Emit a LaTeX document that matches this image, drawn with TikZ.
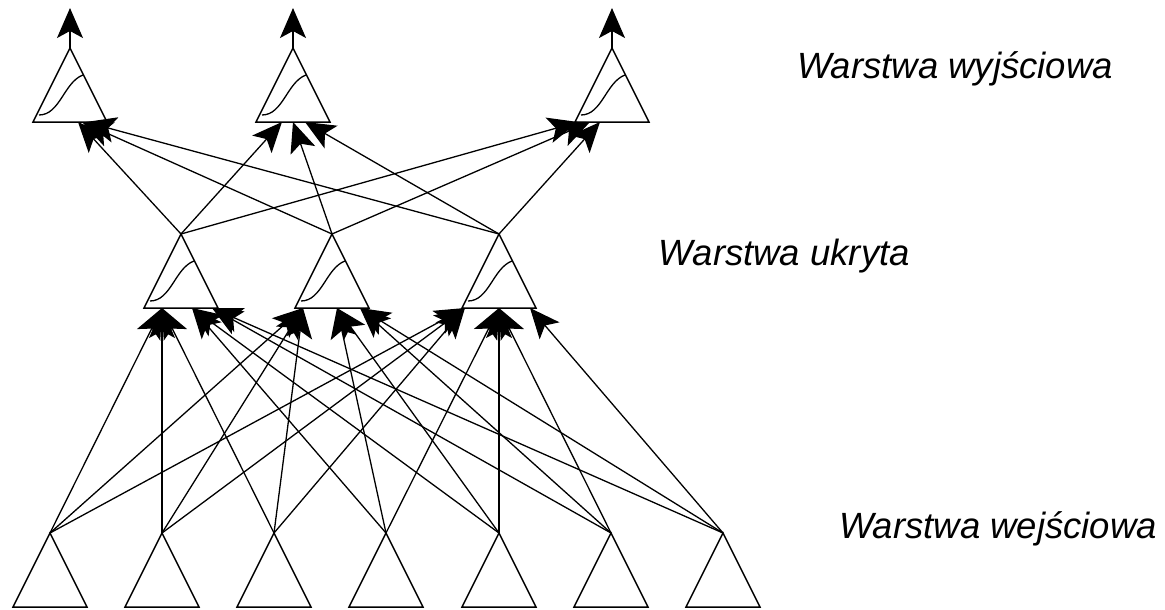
\documentclass[tikz,border=0pt]{standalone}
\usepackage{fontspec}
\setmainfont{Liberation Sans}
\usetikzlibrary{arrows.meta}
\newcommand\neurontri[3]{%
  \coordinate (#1) at (#2,#3);
  \draw[neuronline] (#1) -- ++(37,74) -- ++(-74,0) -- cycle;}
\newcommand\sigmoidcurve[1]{%
  \begin{scope}[shift={(#1)}]
    \draw[sigline] (-31,67) .. controls (-10,67) and (-6,34) .. (13,27);
  \end{scope}}
\begin{document}
\begin{tikzpicture}[x=1pt,y=-1pt,
  neuronline/.style={line width=1.5pt, line join=miter},
  sigline/.style={line width=1.3pt},
  conn/.style={line width=1.3pt, -{Stealth[length=30pt,width=26pt,inset=7pt]}},
  lbl/.style={font=\fontsize{36.5}{40}\selectfont\itshape, anchor=base east, inner sep=0pt}]
\useasboundingbox (0,0) rectangle (1165,610);

% input layer
\neurontri{i1}{50}{533}
\neurontri{i2}{162}{533}
\neurontri{i3}{274}{533}
\neurontri{i4}{386}{533}
\neurontri{i5}{499}{533}
\neurontri{i6}{611}{533}
\neurontri{i7}{723}{533}

% hidden layer
\neurontri{h1}{181}{234}
\neurontri{h2}{332}{234}
\neurontri{h3}{499}{234}
\sigmoidcurve{h1}
\sigmoidcurve{h2}
\sigmoidcurve{h3}

% output layer
\neurontri{o1}{70}{48}
\neurontri{o2}{293}{48}
\neurontri{o3}{612}{48}
\sigmoidcurve{o1}
\sigmoidcurve{o2}
\sigmoidcurve{o3}

% entry points on hidden bases
\coordinate (h1a) at (162,308);
\coordinate (h1b) at (192,308);
\coordinate (h1c) at (212,308);
\coordinate (h2a) at (303,308);
\coordinate (h2b) at (337,308);
\coordinate (h2c) at (360,308);
\coordinate (h3a) at (465,308);
\coordinate (h3b) at (499,308);
\coordinate (h3c) at (530,308);

% entry points on output bases
\coordinate (o1a) at (78,122);
\coordinate (o1b) at (82,122);
\coordinate (o1c) at (86,122);
\coordinate (o2a) at (282,122);
\coordinate (o2b) at (293,122);
\coordinate (o2c) at (305,122);
\coordinate (o3a) at (578,122);
\coordinate (o3b) at (590,122);
\coordinate (o3c) at (600,122);

% output arrows
\coordinate (o1out) at (70,8);
\coordinate (o2out) at (293,8);
\coordinate (o3out) at (612,8);
\draw[conn] (o1) -- (o1out);
\draw[conn] (o2) -- (o2out);
\draw[conn] (o3) -- (o3out);

% input -> hidden 1
\draw[conn] (i1) -- (h1a);
\draw[conn] (i2) -- (h1a);
\draw[conn] (i3) -- (h1a);
\draw[conn] (i4) -- (h1b);
\draw[conn] (i5) -- (h1b);
\draw[conn] (i6) -- (h1c);
\draw[conn] (i7) -- (h1c);
% input -> hidden 2
\draw[conn] (i1) -- (h2a);
\draw[conn] (i2) -- (h2a);
\draw[conn] (i3) -- (h2a);
\draw[conn] (i4) -- (h2b);
\draw[conn] (i5) -- (h2b);
\draw[conn] (i6) -- (h2c);
\draw[conn] (i7) -- (h2c);
% input -> hidden 3
\draw[conn] (i1) -- (h3a);
\draw[conn] (i2) -- (h3a);
\draw[conn] (i3) -- (h3a);
\draw[conn] (i4) -- (h3b);
\draw[conn] (i5) -- (h3b);
\draw[conn] (i6) -- (h3b);
\draw[conn] (i7) -- (h3c);

% hidden -> output
\draw[conn] (h1) -- (o1a);
\draw[conn] (h2) -- (o1b);
\draw[conn] (h3) -- (o1c);
\draw[conn] (h1) -- (o2a);
\draw[conn] (h2) -- (o2b);
\draw[conn] (h3) -- (o2c);
\draw[conn] (h1) -- (o3a);
\draw[conn] (h2) -- (o3b);
\draw[conn] (h3) -- (o3c);

% labels
\node[lbl] (lout) at (1113,78) {Warstwa wyjściowa};
\node[lbl] (lhid) at (910,265) {Warstwa ukryta};
\node[lbl] (lin) at (1157,538) {Warstwa wejściowa};
\end{tikzpicture}
\end{document}
